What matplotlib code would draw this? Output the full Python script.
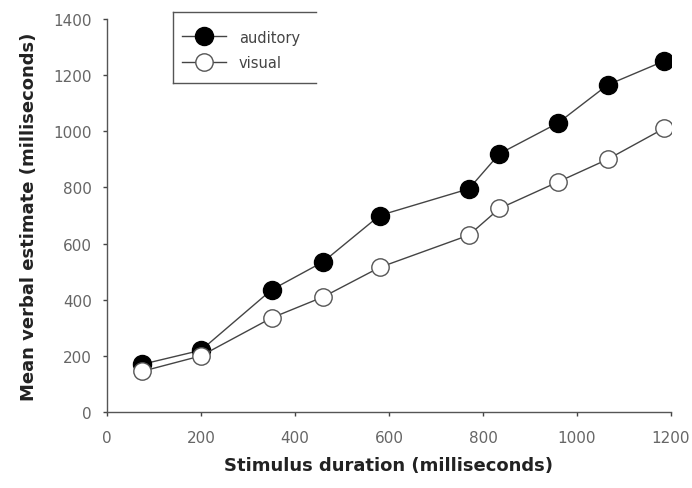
import matplotlib
matplotlib.use("Agg")
import matplotlib.pyplot as plt
from matplotlib.lines import Line2D

plt.rcParams['font.family'] = ['DejaVu Sans']

# stimulus durations (ms) and mean verbal estimates (ms)
duration = [75, 200, 350, 460, 580, 770, 835, 960, 1065, 1185]
auditory = [170, 220, 435, 535, 700, 795, 920, 1030, 1165, 1250]
visual = [145, 200, 335, 410, 515, 630, 725, 820, 900, 1010]

xticks = [0, 200, 400, 600, 800, 1000, 1200]
yticks = [0, 200, 400, 600, 800, 1000, 1200, 1400]

W, H = 692, 489
fig = plt.figure(figsize=(W / 100, H / 100), dpi=100)
ax = fig.add_axes([107 / W, 1 - 413 / H, 564 / W, 393 / H])

ax.plot(duration, auditory, color='#444444', lw=1.0, marker='o', ms=13,
        mfc='black', mec='black', label='auditory', zorder=3)
ax.plot(duration, visual, color='#444444', lw=1.0, marker='o', ms=12.5,
        mfc='white', mec='#555555', mew=1.0, label='visual', zorder=3)

ax.set_xlim(0, 1200)
ax.set_ylim(0, 1400)
ax.set_xticks(xticks)
ax.set_yticks(yticks)
ax.tick_params(direction='out', length=3, width=1, color='#444444',
               labelsize=11, labelcolor='#666666')
ax.tick_params(axis='x', pad=10)
ax.tick_params(axis='y', pad=8)
for side in ['top', 'right']:
    ax.spines[side].set_visible(False)
for side in ['left', 'bottom']:
    ax.spines[side].set_color('#555555')
    ax.spines[side].set_linewidth(1.0)

ax.set_xlabel('Stimulus duration (milliseconds)', fontsize=13,
              fontweight='bold', color='#222222', labelpad=8)
ax.set_ylabel('Mean verbal estimate (milliseconds)', fontsize=13,
              fontweight='bold', color='#222222', labelpad=11)

leg = ax.legend(loc='center left', bbox_to_anchor=(182 / W, 1 - 51 / H),
                bbox_transform=fig.transFigure, frameon=False,
                fontsize=10.5, handlelength=3.0, labelspacing=0.75,
                handletextpad=0.9, borderpad=0, borderaxespad=0)
for t in leg.get_texts():
    t.set_color('#444444')

# legend box, open on the right side
x0, x1, y0, y1 = 173 / W, 316 / W, 1 - 13 / H, 1 - 84 / H
box = dict(color='#555555', lw=1.0, transform=fig.transFigure)
fig.add_artist(Line2D([x0, x1], [y0, y0], **box))
fig.add_artist(Line2D([x0, x1], [y1, y1], **box))
fig.add_artist(Line2D([x0, x0], [y0, y1], **box))

fig.savefig('out.png', dpi=100)
